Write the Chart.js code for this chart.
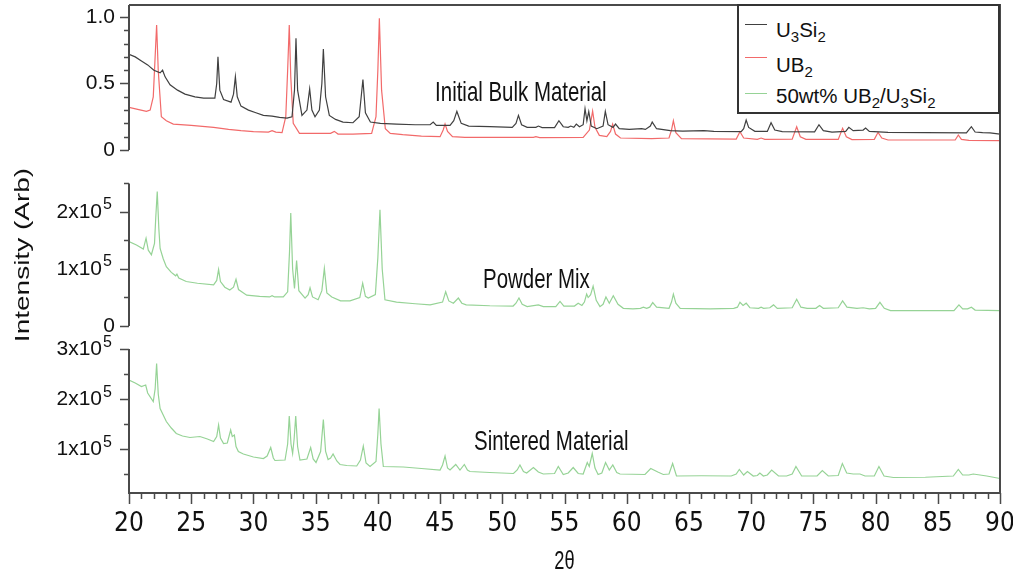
<!DOCTYPE html>
<html>
<head>
<meta charset="utf-8">
<title>XRD patterns</title>
<script src="https://cdn.jsdelivr.net/npm/chart.js@4.4.1/dist/chart.umd.min.js"></script>
<style>
  html, body { margin: 0; padding: 0; background: #fff; }
  #wrap { position: relative; width: 1013px; height: 573px; }
  #legendBox { position: absolute; left: 737px; top: 4px; width: 263px; height: 110px;
               border: 2px solid #333; background: #fff; box-sizing: border-box; }
  .legend-row { position: absolute; left: 776px; font: 20.5px 'Liberation Sans', Arial, sans-serif;
                line-height: 20px; white-space: nowrap; color: #111; }
  .legend-row sub { font-size: 15px; vertical-align: -5px; line-height: 0; }
  .legend-line { position: absolute; left: 745px; width: 22px; height: 0; border-top: 1.5px solid; }
</style>
</head>
<body>
<div id="wrap">
  <canvas id="xrdChart"></canvas>
  <div id="legendBox"></div>
</div>
<script>
// scans: [2theta, intensity]
const u3si2Scan = [
  [20.0,0.72],[20.5,0.70],[21.0,0.67],[21.5,0.64],[22.0,0.60],[22.5,0.58],[22.7,0.60],[22.9,0.55],[23.3,0.49],[23.9,0.45],
  [24.5,0.42],[25.3,0.40],[26.0,0.39],[26.9,0.39],[27.05,0.50],[27.15,0.70],[27.3,0.45],[27.6,0.38],[28.2,0.36],[28.4,0.42],
  [28.55,0.55],[28.7,0.40],[29.0,0.33],[29.6,0.30],[30.2,0.28],[30.8,0.26],[31.5,0.255],[32.1,0.245],[32.7,0.24],[33.1,0.25],
  [33.3,0.45],[33.42,0.84],[33.55,0.45],[33.9,0.26],[34.3,0.30],[34.52,0.46],[34.7,0.30],[34.95,0.25],[35.3,0.30],[35.5,0.50],
  [35.62,0.76],[35.8,0.40],[36.1,0.26],[36.6,0.23],[37.2,0.21],[38.0,0.205],[38.5,0.25],[38.8,0.53],[39.0,0.28],[39.4,0.21],
  [40.2,0.20],[41.5,0.195],[43.0,0.19],[44.2,0.19],[44.45,0.21],[44.7,0.185],[45.8,0.185],[46.1,0.22],[46.35,0.29],[46.7,0.20],
  [47.3,0.18],[49.0,0.175],[50.8,0.17],[51.1,0.20],[51.3,0.26],[51.55,0.19],[52.0,0.17],[52.7,0.17],[52.9,0.18],[53.2,0.168],
  [54.2,0.168],[54.55,0.22],[54.9,0.175],[55.3,0.17],[55.5,0.18],[55.75,0.17],[55.95,0.195],[56.2,0.175],[56.5,0.19],[56.65,0.31],
  [56.8,0.22],[56.95,0.29],[57.15,0.18],[57.6,0.16],[58.1,0.18],[58.28,0.29],[58.5,0.19],[58.9,0.17],[59.1,0.195],[59.4,0.16],
  [60.2,0.155],[61.2,0.16],[61.5,0.155],[61.9,0.18],[62.05,0.21],[62.4,0.16],[63.5,0.145],[64.5,0.142],[66.2,0.145],[67.0,0.14],
  [69.2,0.138],[69.4,0.16],[69.6,0.225],[69.8,0.17],[70.3,0.14],[71.3,0.14],[71.6,0.205],[71.9,0.15],[72.5,0.138],[75.1,0.137],
  [75.45,0.19],[75.8,0.145],[76.5,0.135],[77.6,0.14],[77.85,0.17],[78.2,0.145],[79.0,0.15],[79.2,0.165],[79.5,0.14],[81.0,0.132],
  [84.0,0.13],[87.3,0.128],[87.7,0.175],[88.0,0.135],[88.6,0.13],[89.2,0.128],[90.0,0.12]
];

const ub2Scan = [
  [20.0,0.32],[20.7,0.305],[21.4,0.29],[21.7,0.30],[21.95,0.40],[22.1,0.70],[22.22,0.94],[22.35,0.60],[22.6,0.25],[23.0,0.22],
  [23.56,0.195],[25.0,0.185],[26.8,0.17],[28.0,0.155],[29.0,0.145],[30.0,0.138],[31.2,0.135],[31.5,0.145],[31.8,0.135],[32.3,0.13],
  [32.6,0.25],[32.75,0.60],[32.88,0.94],[33.0,0.55],[33.2,0.20],[33.7,0.125],[35.0,0.125],[36.2,0.125],[36.5,0.14],[36.8,0.12],
  [38.0,0.12],[39.5,0.125],[39.85,0.25],[40.0,0.60],[40.12,0.99],[40.3,0.45],[40.6,0.16],[41.0,0.125],[42.0,0.115],[43.5,0.105],
  [45.0,0.10],[45.25,0.15],[45.4,0.195],[45.6,0.14],[46.0,0.10],[47.0,0.095],[50.0,0.095],[52.5,0.095],[52.7,0.10],[53.0,0.093],
  [56.5,0.095],[57.0,0.15],[57.26,0.293],[57.45,0.17],[57.8,0.11],[58.4,0.10],[58.7,0.14],[58.87,0.195],[59.1,0.12],[59.5,0.09],
  [62.0,0.085],[63.4,0.09],[63.6,0.15],[63.75,0.22],[63.95,0.13],[64.4,0.085],[68.8,0.082],[69.1,0.138],[69.4,0.09],[70.5,0.08],
  [70.8,0.09],[71.1,0.08],[73.3,0.082],[73.66,0.175],[73.95,0.10],[74.4,0.08],[77.0,0.08],[77.35,0.163],[77.65,0.10],[78.1,0.078],
  [79.9,0.08],[80.2,0.133],[80.5,0.09],[81.0,0.075],[86.4,0.075],[86.65,0.113],[86.9,0.08],[87.5,0.072],[90.0,0.07]
];

const powderMixScan = [
  [20.0,148000],[20.6,142000],[21.15,135000],[21.37,154000],[21.55,133000],[21.8,125000],[22.05,145000],[22.15,190000],[22.27,236000],[22.4,170000],
  [22.5,136000],[22.75,118000],[23.0,104000],[23.4,94000],[23.75,88000],[23.85,91000],[24.0,84000],[24.6,78000],[25.5,75000],[26.8,72000],
  [27.05,80000],[27.2,99000],[27.35,78000],[27.7,68000],[28.1,63000],[28.4,68000],[28.6,82000],[28.8,64000],[29.46,54000],[30.5,52000],
  [31.3,51000],[31.5,53000],[31.7,51000],[32.4,51000],[32.75,60000],[32.9,130000],[33.0,198000],[33.15,100000],[33.3,66000],[33.47,115000],
  [33.65,62000],[34.15,49000],[34.4,55000],[34.55,67000],[34.75,51000],[35.2,46000],[35.5,62000],[35.7,101000],[35.9,58000],[36.3,51000],
  [37.0,44000],[37.76,44000],[38.55,50000],[38.78,75000],[39.0,52000],[39.23,49000],[39.8,55000],[40.0,120000],[40.17,204000],[40.35,100000],
  [40.57,46000],[41.5,42000],[43.0,39000],[44.2,37000],[45.2,42000],[45.45,60000],[45.7,44000],[46.07,40000],[46.47,49000],[46.75,40000],
  [47.1,37000],[49.0,35500],[50.87,35000],[51.1,40000],[51.34,49000],[51.6,38000],[52.0,34000],[52.9,37000],[53.3,34000],[54.3,34000],
  [54.64,43000],[54.95,35000],[55.8,35000],[56.1,40000],[56.4,36000],[56.6,42000],[56.78,56000],[56.9,50000],[56.99,52000],[57.1,55000],
  [57.3,70000],[57.55,45000],[57.85,34000],[58.1,38000],[58.33,51000],[58.6,40000],[58.92,53000],[59.3,38000],[59.73,31000],[60.5,30000],
  [61.1,31000],[61.34,33000],[61.6,31000],[61.85,33000],[62.09,41000],[62.4,33000],[63.4,31000],[63.6,42000],[63.75,56000],[63.95,40000],
  [64.3,31000],[66.7,30000],[68.6,31000],[68.9,33000],[69.1,41500],[69.35,36000],[69.6,40000],[69.9,32000],[70.6,31000],[70.8,33000],
  [71.0,31000],[71.5,32000],[71.8,37000],[72.1,31000],[73.3,32000],[73.66,47000],[74.0,33000],[74.5,31000],[75.2,31000],[75.5,36000],
  [75.8,31000],[77.0,32000],[77.35,44000],[77.7,33000],[78.5,31000],[79.0,32000],[79.5,30000],[80.0,31000],[80.35,41500],[80.7,31000],
  [81.2,27000],[84.0,27000],[86.3,27000],[86.7,37000],[87.0,30000],[87.4,30000],[87.7,33000],[88.0,28000],[90.0,27000]
];

const sinteredScan = [
  [20.0,238000],[20.5,232000],[21.0,225000],[21.34,228000],[21.5,212000],[21.95,195000],[22.1,220000],[22.22,271000],[22.35,210000],[22.5,181000],
  [23.0,155000],[23.4,142000],[23.8,131000],[24.3,126000],[24.9,123000],[25.7,125000],[26.3,120000],[26.8,115000],[27.05,125000],[27.2,148000],
  [27.35,122000],[27.6,111000],[27.9,112000],[28.17,138000],[28.3,125000],[28.47,128000],[28.6,105000],[28.79,95000],[29.19,90000],[30.0,84000],
  [30.8,81000],[31.1,86000],[31.39,103000],[31.6,82000],[31.73,77000],[32.54,78000],[32.75,110000],[32.88,166000],[33.02,110000],[33.15,91000],
  [33.27,120000],[33.4,166000],[33.55,105000],[33.74,78000],[34.3,80000],[34.6,103000],[34.8,80000],[35.03,73000],[35.4,95000],[35.62,159000],
  [35.8,95000],[36.0,79000],[36.2,82000],[36.4,90000],[36.7,76000],[36.96,69000],[37.5,67000],[38.3,66000],[38.6,78000],[38.83,106000],
  [39.05,72000],[39.37,65000],[39.85,75000],[40.0,130000],[40.1,181000],[40.25,110000],[40.44,65000],[42.05,64000],[43.5,61000],[45.0,58000],
  [45.2,68000],[45.4,86000],[45.6,62000],[45.8,58000],[46.26,69000],[46.6,58000],[46.95,69000],[47.2,58000],[47.4,55000],[49.0,53000],
  [50.9,51000],[51.2,58000],[51.42,68000],[51.7,55000],[51.96,52000],[52.5,63000],[52.9,54000],[53.3,50000],[54.2,51000],[54.5,65000],
  [54.9,49000],[55.3,52000],[55.7,63000],[56.1,51000],[56.5,50000],[56.83,73000],[56.99,65000],[57.23,91000],[57.45,62000],[57.7,49000],
  [58.0,52000],[58.3,73000],[58.6,58000],[58.88,68000],[59.2,53000],[59.46,50000],[61.47,49000],[61.93,61000],[62.5,54000],[62.94,49000],
  [63.4,50000],[63.69,71000],[64.0,46000],[66.0,46500],[68.4,46000],[68.8,50000],[69.05,59000],[69.4,48000],[69.7,55000],[70.17,46000],
  [70.5,47000],[70.7,52000],[70.98,46000],[71.3,48000],[71.65,58000],[72.2,46000],[72.85,46000],[73.3,50000],[73.6,65000],[74.06,46000],
  [75.3,46000],[75.72,57000],[76.2,46000],[77.0,47000],[77.33,71000],[77.68,52000],[78.2,50000],[78.75,50000],[79.15,46000],[79.9,46000],
  [80.27,65000],[80.68,46000],[81.43,43000],[84.0,43500],[86.25,46000],[86.65,59000],[87.0,48000],[87.5,48000],[87.85,50000],[88.93,46000],
  [90.0,41000]
];

const seriesLabels = ['U₃Si₂', 'UB₂', '50wt% UB₂/U₃Si₂'];
const panelLabels = ['Initial Bulk Material', 'Powder Mix', 'Sintered Material'];
const xTickValues = [20, 25, 30, 35, 40, 45, 50, 55, 60, 65, 70, 75, 80, 85, 90];
const topTickValues = [0, 0.5, 1.0];
const midTickValues = [0, 100000, 200000];
const botTickValues = [100000, 200000, 300000];

const FONT = "'Liberation Sans', Arial, sans-serif";
const NARROW = "'Liberation Sans Narrow', 'DejaVu Sans Condensed', 'Liberation Sans', sans-serif";
const SQUEEZE = 0.73;
const AXIS_COLOR = '#4a4a4a';
const LABEL_RIGHT = 115;

const toXY = scan => scan.map(([x, y]) => ({ x, y }));

function noPadding(s) {
  s.paddingLeft = s.paddingRight = s.paddingTop = s.paddingBottom = 0;
}

// every y axis spans the whole plot height; the ranges put each panel in its own band
function panelAxis(min, max, ticks, showLabels) {
  return {
    type: 'linear', position: 'left', min, max,
    afterFit: s => { s.width = 0; noPadding(s); },
    afterBuildTicks: s => { s.ticks = ticks.map(v => ({ value: v })); },
    grid: { display: false, drawTicks: false },
    border: { display: false },
    ticks: {
      display: showLabels, padding: 14, color: '#111', font: { family: FONT, size: 21 },
      callback: v => v === 0 ? '0' : v.toFixed(1)
    }
  };
}

const panels = [
  { id: 'yTop', from: 0, to: 1.09, step: 0.1, major: topTickValues, sci: false },
  { id: 'yMid', from: 0, to: 250000, step: 50000, major: midTickValues, sci: true },
  { id: 'yBot', from: 300000, to: 12000, step: 50000, major: botTickValues, sci: true }
];

const notes = [
  { text: panelLabels[0], x: 44.6, y: 0.368, axis: 'yTop' },
  { text: panelLabels[1], x: 48.45, y: 66700, axis: 'yMid' },
  { text: panelLabels[2], x: 47.73, y: 98000, axis: 'yBot' }
];

function squishedText(ctx, text, x, y, size, align, rotate) {
  ctx.save();
  ctx.translate(x, y);
  ctx.scale(SQUEEZE, 1);
  if (rotate) ctx.rotate(-Math.PI / 2);
  ctx.font = size + 'px ' + FONT;
  ctx.textAlign = align;
  ctx.textBaseline = 'alphabetic';
  ctx.fillStyle = '#111';
  ctx.fillText(text, 0, 0);
  ctx.restore();
}

// "2x10" with a raised 5, the way the original axis prints it
function sciTickLabels(ctx, scale, values) {
  ctx.save();
  ctx.fillStyle = '#111';
  values.forEach(v => {
    const y = scale.getPixelForValue(v);
    ctx.font = '21px ' + FONT;
    ctx.textAlign = 'right';
    ctx.textBaseline = 'middle';
    if (v === 0) {
      ctx.fillText('0', LABEL_RIGHT, y);
      return;
    }
    ctx.fillText((v / 100000) + 'x10', LABEL_RIGHT - 13, y);
    ctx.font = '16px ' + FONT;
    ctx.textAlign = 'left';
    ctx.textBaseline = 'alphabetic';
    ctx.fillText('5', LABEL_RIGHT - 12, y - 2.5);
  });
  ctx.restore();
}

const axisFrame = {
  id: 'axisFrame',
  // scale boxes were squeezed to nothing; widen them again so their labels are not clipped
  afterLayout(chart) {
    panels.forEach(p => { chart.scales[p.id].left = 0; });
    chart.scales.x.bottom = chart.height;
  },
  afterDraw(chart) {
    const { ctx, chartArea: a, scales } = chart;
    ctx.save();
    ctx.strokeStyle = AXIS_COLOR;
    ctx.lineWidth = 2;
    ctx.beginPath();
    ctx.moveTo(a.left, a.top);
    ctx.lineTo(a.right, a.top);
    ctx.lineTo(a.right, a.bottom);
    ctx.lineTo(a.left - 1, a.bottom);
    ctx.stroke();

    panels.forEach(p => {
      const s = scales[p.id];
      ctx.lineWidth = 2;
      ctx.beginPath();
      ctx.moveTo(a.left, s.getPixelForValue(p.from));
      ctx.lineTo(a.left, s.getPixelForValue(p.to));
      ctx.stroke();
      const lo = Math.min(p.from, p.to), hi = Math.max(p.from, p.to);
      ctx.lineWidth = 1.5;
      ctx.beginPath();
      for (let i = Math.ceil(lo / p.step - 1e-6); i * p.step <= hi + 1e-6; i++) {
        const v = i * p.step;
        const major = p.major.some(m => Math.abs(m - v) < p.step / 10);
        const py = Math.round(s.getPixelForValue(v)) + 0.5;
        ctx.moveTo(a.left - (major ? 9 : 5), py);
        ctx.lineTo(a.left, py);
      }
      ctx.stroke();
      if (p.sci) sciTickLabels(ctx, s, p.major);
    });

    const xs = scales.x;
    ctx.lineWidth = 1.5;
    ctx.beginPath();
    for (let v = 20; v <= 90; v++) {
      const px = Math.round(xs.getPixelForValue(v)) + 0.5;
      ctx.moveTo(px, a.bottom);
      ctx.lineTo(px, a.bottom + (v % 5 === 0 ? 11 : 6));
    }
    ctx.stroke();
    ctx.restore();

    notes.forEach(n => {
      squishedText(ctx, n.text, xs.getPixelForValue(n.x), scales[n.axis].getPixelForValue(n.y), 28, 'left', false);
    });
    squishedText(ctx, '2θ', (a.left + a.right) / 2, 569, 25, 'center', false);
    squishedText(ctx, 'Intensity (Arb)', 28.5, 255, 28, 'center', true);
  }
};

const chart = new Chart(document.getElementById('xrdChart'), {
  type: 'line',
  data: {
    datasets: [
      { label: seriesLabels[0], data: toXY(u3si2Scan), yAxisID: 'yTop', borderColor: '#404040' },
      { label: seriesLabels[1], data: toXY(ub2Scan), yAxisID: 'yTop', borderColor: '#f26a6a' },
      { label: seriesLabels[2], data: toXY(powderMixScan), yAxisID: 'yMid', borderColor: '#96d396' },
      { label: seriesLabels[2], data: toXY(sinteredScan), yAxisID: 'yBot', borderColor: '#96d396' }
    ]
  },
  options: {
    responsive: true,
    maintainAspectRatio: false,
    animation: false,
    events: [],
    layout: { padding: { left: 129, right: 13, top: 5, bottom: 80 } },
    elements: {
      line: { borderWidth: 1.2, tension: 0, fill: false },
      point: { radius: 0 }
    },
    plugins: { legend: { display: false }, tooltip: { enabled: false } },
    scales: {
      x: {
        type: 'linear', position: 'bottom', min: 20, max: 90,
        afterFit: s => { s.height = 0; noPadding(s); },
        afterBuildTicks: s => { s.ticks = xTickValues.map(v => ({ value: v })); },
        grid: { display: false, drawTicks: false },
        border: { display: false },
        ticks: { padding: 16, color: '#111', font: { family: NARROW, size: 26 }, maxRotation: 0, autoSkip: false }
      },
      yTop: panelAxis(-2.579, 1.0902, topTickValues, true),
      yMid: panelAxis(-293000, 563160, midTickValues, false),
      yBot: panelAxis(12000, 988000, botTickValues, false)
    }
  },
  plugins: [axisFrame]
});

// legend: one entry per series label, drawn as html so the subscripts sit right
const wrap = document.getElementById('wrap');
const rowTops = [20.2, 54.6, 86.2];
const lineYs = [25, 58, 94];
seriesLabels.forEach((label, i) => {
  const ds = chart.data.datasets[i];
  const line = document.createElement('div');
  line.className = 'legend-line';
  line.style.top = (lineYs[i] - 0.75) + 'px';
  line.style.borderTopColor = ds.borderColor;
  wrap.appendChild(line);
  const row = document.createElement('div');
  row.className = 'legend-row';
  row.style.top = rowTops[i] + 'px';
  row.innerHTML = label.replace(/[₀-₉]/g, c => '<sub>' + (c.charCodeAt(0) - 0x2080) + '</sub>');
  wrap.appendChild(row);
});
</script>
</body>
</html>
